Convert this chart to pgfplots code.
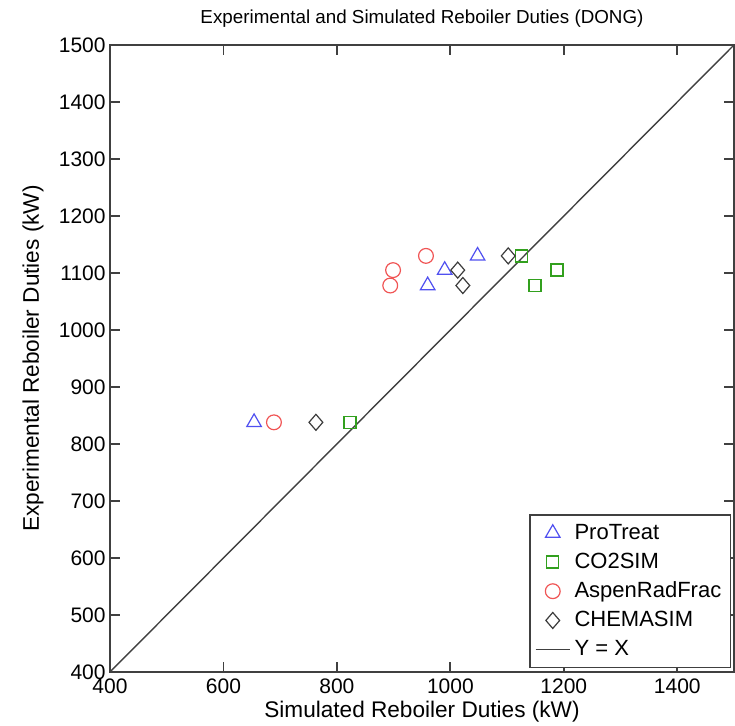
\documentclass[border=0pt]{standalone}
\usepackage{fontspec}
\setmainfont{Liberation Sans}
\usepackage{pgfplots}
\pgfplotsset{compat=1.18}

\definecolor{ptblue}{RGB}{80,80,240}
\definecolor{cogreen}{RGB}{50,160,30}
\definecolor{asred}{RGB}{240,85,85}
\definecolor{chgray}{RGB}{60,60,60}
\definecolor{axgray}{RGB}{64,64,64}

\begin{document}
\begin{tikzpicture}
\begin{axis}[
    scale only axis,
    width=312pt, height=313.5pt,
    xmin=400, xmax=1500, ymin=400, ymax=1500,
    xtick={400,600,...,1400},
    ytick={400,500,...,1500},
    extra x ticks={1500}, extra x tick labels={},
    xtick align=inside, ytick align=inside,
    xtick pos=both, ytick pos=both,
    major tick length=5pt,
    every tick/.append style={draw=axgray, line width=0.9pt},
    axis line style={axgray, line width=0.8pt},
    /pgf/number format/assume math mode=true,
    /pgf/number format/set thousands separator={},
    ticklabel style={font=\fontsize{10.5}{12}\selectfont},
    yticklabel style={inner sep=2pt},
    title={Experimental and Simulated Reboiler Duties (DONG)},
    title style={font=\fontsize{9.4}{11}\selectfont,
        at={(axis description cs:0.5,1)}, anchor=center, yshift=7pt},
    xlabel={Simulated Reboiler Duties (kW)},
    ylabel={Experimental Reboiler Duties (kW)},
    xlabel style={font=\fontsize{11.3}{13}\selectfont,
        at={(axis description cs:0.5,-0.064)}, anchor=center},
    ylabel style={font=\fontsize{11.3}{13}\selectfont,
        at={(axis description cs:-0.1234,0.5)}, anchor=center, rotate=0},
    legend cell align=left,
    legend style={font=\fontsize{11}{12}\selectfont, draw=axgray,
        line width=0.6pt, row sep=1.3pt, inner sep=2.5pt,
        nodes={inner sep=2pt},
        at={(0.995,0.0064)}, anchor=south east},
]
\addplot[only marks, color=ptblue, mark=triangle, mark size=4.2pt,
    mark options={solid, line width=0.6pt}] coordinates {
    (654,838) (960,1078) (990,1105) (1048,1130)
};
\addlegendentry{ProTreat}
\addplot[only marks, color=cogreen, mark=square, mark size=3pt,
    mark options={solid, draw=cogreen, line width=0.7pt}] coordinates {
    (823,838) (1125,1130) (1149,1078) (1188,1105)
};
\addlegendentry{CO2SIM}
\addplot[only marks, color=asred, mark=o, mark size=3.7pt,
    mark options={solid, line width=0.6pt}] coordinates {
    (689,838) (894,1078) (899,1105) (957,1130)
};
\addlegendentry{AspenRadFrac}
\addplot[only marks, color=chgray, mark=diamond, mark size=4pt,
    mark options={solid, line width=0.6pt, xscale=1.15}] coordinates {
    (763,838) (1013,1105) (1022,1078) (1102,1130)
};
\addlegendentry{CHEMASIM}
\addplot[axgray, no marks, sharp plot, line width=0.7pt] coordinates {
    (400,400) (1500,1500)
};
\addlegendentry{Y = X}
\end{axis}
\pgfresetboundingbox
\useasboundingbox ([shift={(-55pt,-27pt)}]current axis.south west)
    rectangle ([shift={(0.5pt,22.5pt)}]current axis.north east);
\end{tikzpicture}
\end{document}
